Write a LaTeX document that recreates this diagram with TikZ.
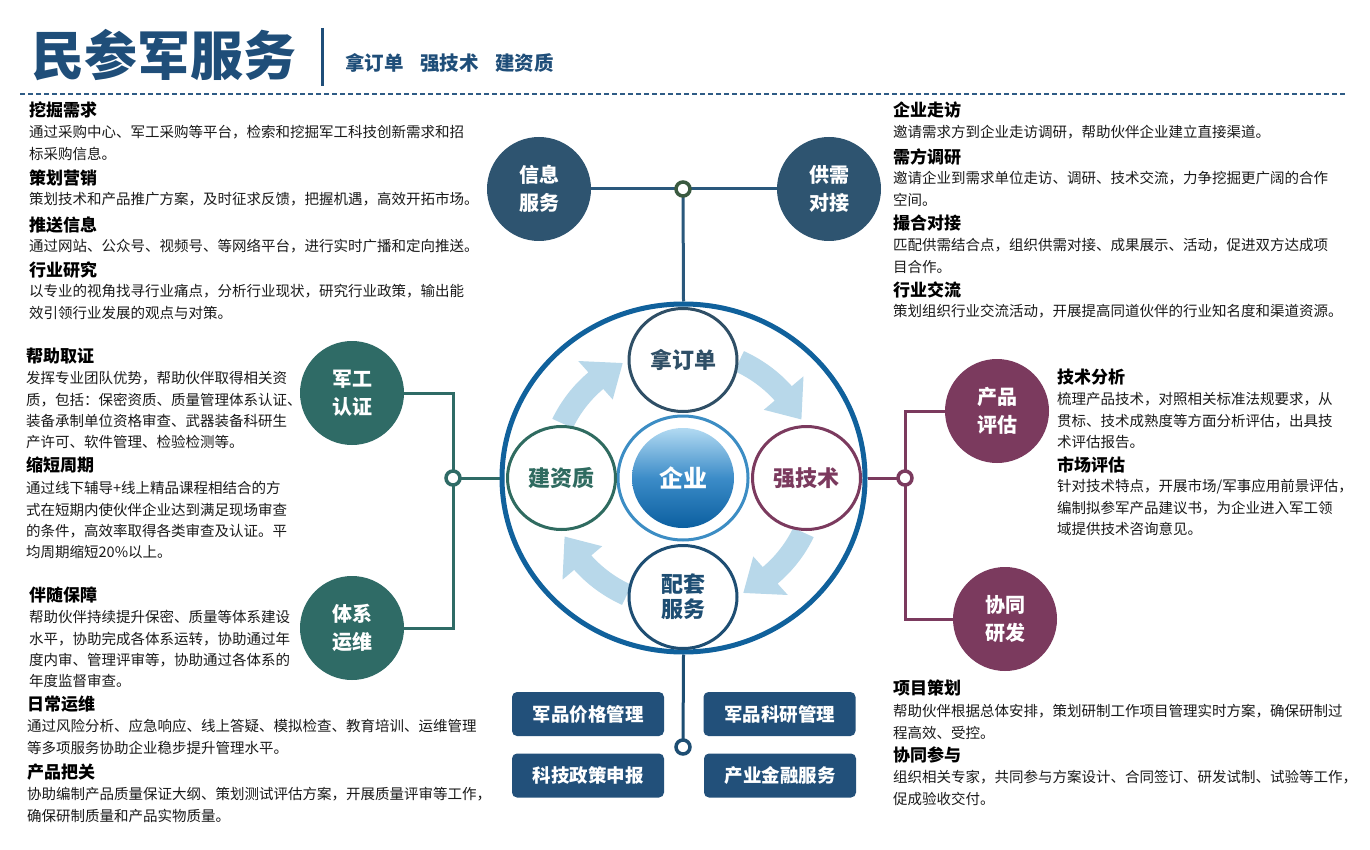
\documentclass[tikz,border=0pt]{standalone}
\usepackage{fontspec}
\setmainfont{Noto Sans CJK SC}
\usetikzlibrary{shapes.geometric}
\definecolor{titlec}{HTML}{1F4E79}
\definecolor{dashc}{HTML}{2E5B85}
\definecolor{infoc}{HTML}{2E5470}
\definecolor{linetop}{HTML}{2A587C}
\definecolor{jtopc}{HTML}{3A5A40}
\definecolor{tealc}{HTML}{2F6B66}
\definecolor{plumc}{HTML}{7B3A5E}
\definecolor{boxc}{HTML}{22507A}
\definecolor{navyb}{HTML}{1E4E73}
\definecolor{ringc}{HTML}{10619C}
\definecolor{takec}{HTML}{2F4F66}
\definecolor{qualc}{HTML}{2F6B60}
\definecolor{entring}{HTML}{3C8DC4}
\definecolor{enttop}{HTML}{B2DAF2}
\definecolor{entmid}{HTML}{3C8CC8}
\definecolor{entbot}{HTML}{0B5FA0}
\definecolor{arrc}{HTML}{B8D8EA}
\definecolor{bodyc}{HTML}{1A1A1A}
\pgfdeclarelayer{back}
\pgfdeclarelayer{lines}
\pgfsetlayers{back,lines,main}
\begin{document}
\begin{tikzpicture}[x=1pt,y=-1pt,
  every node/.style={inner sep=0pt},
  bigc/.style={circle, minimum size=104pt, inner sep=0pt, text=white, font=\fontsize{20}{28}\selectfont\bfseries, align=center},
  innerc/.style={ellipse, minimum width=108pt, minimum height=103pt, inner sep=0pt, line width=3pt, fill=white, font=\fontsize{22}{25}\selectfont\bfseries, align=center},
  junc/.style={circle, minimum size=14pt, inner sep=0pt, fill=white, line width=3.5pt},
  conn/.style={line width=3pt},
  box/.style={rectangle, rounded corners=5pt, fill=boxc, minimum width=152pt, minimum height=44pt, text=white, font=\fontsize{18.5}{20}\selectfont\bfseries},
  head/.style={inner sep=0pt, anchor=west, font=\fontsize{17}{20}\selectfont\bfseries, text=black},
  body/.style={inner sep=0pt, anchor=north west, align=left, font=\fontsize{14.5}{21.3}\selectfont, text=bodyc}]
\begin{pgfonlayer}{back}
\fill[white] (0,0) rectangle (1370,850);
\end{pgfonlayer}
\useasboundingbox (0,0) rectangle (1370,850);

% ---------- header ----------
\node[anchor=west, text=titlec, font=\fontsize{53}{56}\selectfont\bfseries] (title) at (31,55) {民参军服务};
\draw[titlec, line width=3pt] (322,28) -- (322,86);
\node[anchor=west, text=titlec, font=\fontsize{19.5}{22}\selectfont\bfseries] (subtitle) at (345,63) {拿订单\hspace{0.85em}强技术\hspace{0.85em}建资质};
\draw[dashc, line width=1.3pt, dash pattern=on 5pt off 3pt] (20,94) -- (1345,94);

% ---------- centre cluster ----------
\node[ellipse, draw=ringc, line width=5pt, minimum width=363pt, minimum height=348pt] (ring) at (683.5,478) {};
\node[ellipse, draw=entring, line width=3pt, minimum width=130pt, minimum height=124pt, fill=white] (entr) at (683,478) {};
\node[ellipse, minimum width=102pt, minimum height=100pt, top color=enttop, bottom color=entbot, middle color=entmid, text=white, font=\fontsize{24}{26}\selectfont\bfseries] (ent) at (683,478) {企业};
\node[innerc, draw=takec, text=takec] (take) at (683,360) {拿订单};
\node[innerc, draw=plumc, text=plumc] (tech) at (806.5,478) {强技术};
\node[innerc, draw=qualc, text=qualc] (qual) at (561.5,478) {建资质};
\node[innerc, draw=navyb, text=navyb] (supp) at (683,597) {配套\\服务};

\begin{pgfonlayer}{lines}
\begin{scope}[shift={(ent.center)}, xscale=1.03]
\foreach \k in {0,...,3}{
  \pgfmathsetmacro\pa{-155+90*\k}
  \pgfmathsetmacro\pb{\pa+24}
  \pgfmathsetmacro\pc{\pa+38}
  \fill[arrc] (\pa:118) arc[start angle=\pa, end angle=\pb, radius=118] -- (\pb:104) -- (\pc:129) -- (\pb:155) -- (\pb:140) arc[start angle=\pb, end angle=\pa, radius=140] -- cycle;
}
\end{scope}
\end{pgfonlayer}

% ---------- satellite circles ----------
\node[bigc, fill=infoc] (info) at (539,189) {信息\\服务};
\node[bigc, fill=infoc] (supply) at (829,189) {供需\\对接};
\node[bigc, fill=tealc] (mil) at (352,393) {军工\\认证};
\node[bigc, fill=tealc] (sys) at (352,628) {体系\\运维};
\node[bigc, fill=plumc] (prod) at (997,411) {产品\\评估};
\node[bigc, fill=plumc] (collab) at (1005,619) {协同\\研发};

% ---------- junctions ----------
\node[junc, draw=jtopc] (jt) at (683,189) {};
\node[junc, draw=tealc] (jl) at (453,478) {};
\node[junc, draw=plumc] (jr) at (905,478) {};
\node[junc, draw=navyb] (jb) at (683,747) {};

% ---------- boxes ----------
\node[box] (bx1) at (588,714) {军品价格管理};
\node[box] (bx2) at (779.5,714) {军品科研管理};
\node[box] (bx3) at (588,775.5) {科技政策申报};
\node[box] (bx4) at (780,775.5) {产业金融服务};

% ---------- connectors ----------
\begin{pgfonlayer}{lines}
\draw[conn, linetop] (info) -- (jt.center) -- (supply);
\draw[conn, linetop] (jt.center) -- (ring.north);
\draw[conn, tealc] (mil.east) -| (jl.center) |- (sys.east);
\draw[conn, tealc] (jl.center) -- (ring.west);
\draw[conn, plumc] (prod.west) -| (jr.center) |- (collab.west);
\draw[conn, plumc] (jr.center) -- (ring.east);
\draw[conn, navyb] (ring.south) -- (jb.center);
\end{pgfonlayer}

% ---------- text blocks ----------
\newcommand{\sect}[6]{%
  \node[head] (#1h) at (#2,#3) {#4};
  \node[body] (#1b) at (#2,#5-7.6) {#6};}

\sect{s1}{29}{110}{挖掘需求}{133}{通过采购中心、军工采购等平台，检索和挖掘军工科技创新需求和招\\标采购信息。}
\sect{s2}{29}{178}{策划营销}{200}{策划技术和产品推广方案，及时征求反馈，把握机遇，高效开拓市场。}
\sect{s3}{29}{225}{推送信息}{247}{通过网站、公众号、视频号、等网络平台，进行实时广播和定向推送。}
\sect{s4}{29}{270}{行业研究}{292}{以专业的视角找寻行业痛点，分析行业现状，研究行业政策，输出能\\效引领行业发展的观点与对策。}

\sect{s5}{893}{110}{企业走访}{133}{邀请需求方到企业走访调研，帮助伙伴企业建立直接渠道。}
\sect{s6}{893}{157}{需方调研}{179}{邀请企业到需求单位走访、调研、技术交流，力争挖掘更广阔的合作\\空间。}
\sect{s7}{893}{223}{撮合对接}{246}{匹配供需结合点，组织供需对接、成果展示、活动，促进双方达成项\\目合作。}
\sect{s8}{893}{290}{行业交流}{312}{策划组织行业交流活动，开展提高同道伙伴的行业知名度和渠道资源。}

\sect{s9}{26}{356}{帮助取证}{379}{发挥专业团队优势，帮助伙伴取得相关资\\质，包括：保密资质、质量管理体系认证、\\装备承制单位资格审查、武器装备科研生\\产许可、软件管理、检验检测等。}
\sect{s10}{26}{465}{缩短周期}{489}{通过线下辅导+线上精品课程相结合的方\\式在短期内使伙伴企业达到满足现场审查\\的条件，高效率取得各类审查及认证。平\\均周期缩短20\%以上。}

\sect{s11}{29}{595}{伴随保障}{618}{帮助伙伴持续提升保密、质量等体系建设\\水平，协助完成各体系运转，协助通过年\\度内审、管理评审等，协助通过各体系的\\年度监督审查。}
\sect{s12}{27}{704}{日常运维}{727}{通过风险分析、应急响应、线上答疑、模拟检查、教育培训、运维管理\\等多项服务协助企业稳步提升管理水平。}
\sect{s13}{27}{772}{产品把关}{795}{协助编制产品质量保证大纲、策划测试评估方案，开展质量评审等工作，\\确保研制质量和产品实物质量。}

\sect{s14}{1057}{377}{技术分析}{400}{梳理产品技术，对照相关标准法规要求，从\\贯标、技术成熟度等方面分析评估，出具技\\术评估报告。}
\sect{s15}{1057}{465}{市场评估}{487}{针对技术特点，开展市场/军事应用前景评估，\\编制拟参军产品建议书，为企业进入军工领\\域提供技术咨询意见。}

\sect{s16}{893}{688}{项目策划}{712}{帮助伙伴根据总体安排，策划研制工作项目管理实时方案，确保研制过\\程高效、受控。}
\sect{s17}{893}{755}{协同参与}{778}{组织相关专家，共同参与方案设计、合同签订、研发试制、试验等工作，\\促成验收交付。}
\end{tikzpicture}
\end{document}
